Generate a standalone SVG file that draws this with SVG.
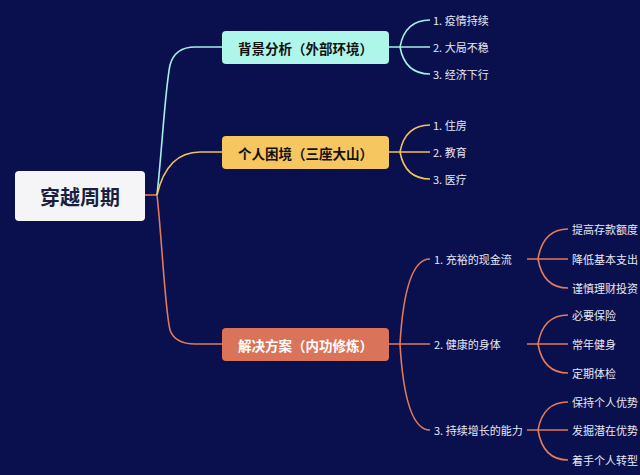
<svg xmlns="http://www.w3.org/2000/svg" width="640" height="475" viewBox="0 0 640 475">
<style>
text{font-family:"Noto Sans CJK SC","Noto Sans",sans-serif}
.t{font-size:11px;fill:#e6e8f2;dominant-baseline:central}
.n{font-size:13.5px;font-weight:bold;fill:#111;text-anchor:middle;dominant-baseline:central}
.c{fill:none;stroke-width:1.6}
.a{stroke:#a7efe6}.b{stroke:#f2c25a}.o{stroke:#e07a58}
</style>
<rect width="640" height="475" fill="#0a0f4e"/>
<g id="connectors">
<path class="c o" d="M145 195H157"/>
<path class="c a" d="M157 195C162 150 165 90 170 65Q175 47 195 47H222"/>
<path class="c b" d="M157 195Q167 152 200 152H222"/>
<path class="c o" d="M157 195C162 240 165 310 170 330Q175 344 195 344H222"/>
<path class="c a" d="M389 47H430M400 47Q405 20 430 20M400 47Q405 74 430 74"/>
<path class="c b" d="M389 152H430M400 152Q405 125 430 125M400 152Q405 179 430 179"/>
<path class="c o" d="M389 344H430M400 344Q405 259 430 259M400 344Q405 430 430 430"/>
<path class="c o" d="M527 259H568M538 259Q543 229 568 229M538 259Q543 288 568 288"/>
<path class="c o" d="M527 344H568M538 344Q543 315 568 315M538 344Q543 373 568 373"/>
<path class="c o" d="M527 430H568M538 430Q543 402 568 402M538 430Q543 460 568 460"/>
</g>
<g id="root"><rect x="15" y="171" width="130" height="50" rx="4" fill="#f5f5f8"/><text x="80" y="196" style="font-size:20px;font-weight:bold;fill:#1a1f3f;text-anchor:middle;dominant-baseline:central">穿越周期</text></g>
<g id="n1"><rect x="222" y="31" width="167" height="33" rx="4" fill="#aef5ea"/><text class="n" x="305.5" y="47.5">背景分析（外部环境）</text></g>
<g id="n2"><rect x="222" y="136" width="167" height="33" rx="4" fill="#f6c660"/><text class="n" x="305.5" y="152.5">个人困境（三座大山）</text></g>
<g id="n3"><rect x="222" y="328" width="167" height="33" rx="4" fill="#d9735a"/><text class="n" x="305.5" y="344.5" style="fill:#fff">解决方案（内功修炼）</text></g>
<g id="leaves">
<text class="t" x="433" y="20">1. 疫情持续</text>
<text class="t" x="433" y="47">2. 大局不稳</text>
<text class="t" x="433" y="74">3. 经济下行</text>
<text class="t" x="433" y="125">1. 住房</text>
<text class="t" x="433" y="152">2. 教育</text>
<text class="t" x="433" y="179">3. 医疗</text>
<text class="t" x="434" y="259">1. 充裕的现金流</text>
<text class="t" x="434" y="344">2. 健康的身体</text>
<text class="t" x="434" y="430">3. 持续增长的能力</text>
<text class="t" x="572" y="229">提高存款额度</text>
<text class="t" x="572" y="259">降低基本支出</text>
<text class="t" x="572" y="288">谨慎理财投资</text>
<text class="t" x="572" y="315">必要保险</text>
<text class="t" x="572" y="344">常年健身</text>
<text class="t" x="572" y="373">定期体检</text>
<text class="t" x="572" y="402">保持个人优势</text>
<text class="t" x="572" y="430">发掘潜在优势</text>
<text class="t" x="572" y="460">着手个人转型</text>
</g>
</svg>
